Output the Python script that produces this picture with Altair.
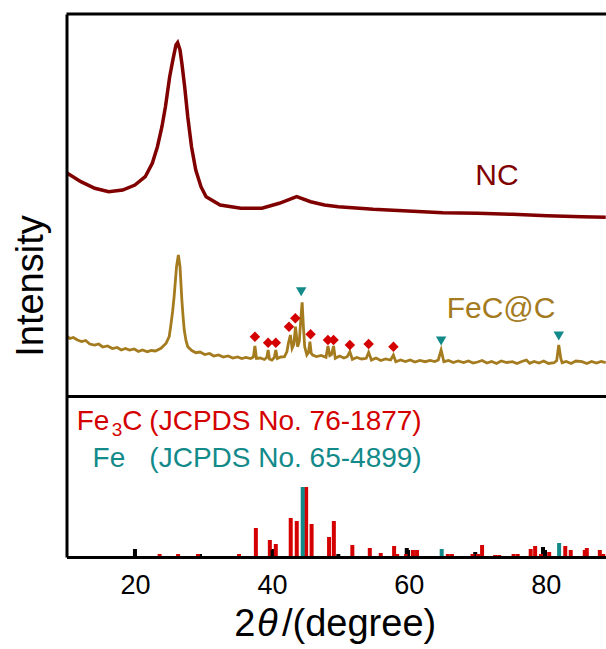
import altair as alt
import pandas as pd

# ---------------- data ----------------
# NC pattern: 2theta (deg) and intensity (arbitrary units)
nc_deg = [10.07, 12.10, 14.13, 16.16, 18.20, 19.99, 21.50, 22.53, 23.28, 23.94,
          24.45, 25.07, 25.58, 25.99, 26.23, 26.58, 26.85, 27.26, 27.71, 28.26,
          28.88, 29.64, 30.39, 32.44, 35.47, 38.54, 41.08, 43.62, 45.65, 47.68,
          49.72, 54.80, 59.88, 64.96, 70.04, 75.12, 80.22, 85.30, 88.76]
nc_int = [223.5, 214.8, 208.2, 204.8, 206.5, 211.5, 219.8, 233.2, 249.8, 269.8,
          289.8, 319.8, 338.2, 351.5, 353.8, 346.5, 333.2, 309.8, 279.8, 249.8,
          226.5, 209.8, 199.8, 191.5, 188.2, 188.2, 193.2, 199.8, 194.8, 191.5,
          189.8, 187.2, 185.5, 183.8, 183.2, 182.2, 180.8, 179.8, 179.2]

# FeC@C pattern
fec_deg = [10.00, 10.50, 11.00, 11.60, 12.20, 12.80, 13.40, 14.10, 14.70, 15.30,
           16.00, 16.70, 17.40, 18.00, 18.60, 19.20, 19.90, 20.50, 21.10, 21.80,
           22.40, 23.00, 23.80, 24.55, 25.00, 25.21, 25.50, 25.72, 26.07, 26.34,
           26.58, 26.85, 27.05, 27.20, 27.45, 27.71, 28.30, 28.88, 29.50, 30.20,
           30.90, 31.50, 32.20, 32.90, 33.60, 34.30, 35.00, 35.60, 36.20, 36.90,
           37.30, 37.52, 37.75, 38.30, 38.90, 39.25, 39.45, 39.65, 40.00, 40.35,
           40.57, 40.80, 41.30, 41.84, 42.20, 42.40, 42.70, 42.95, 43.20, 43.45,
           43.75, 44.00, 44.25, 44.42, 44.60, 44.79, 45.10, 45.35, 45.55, 45.75,
           45.95, 46.50, 47.20, 47.90, 48.19, 48.45, 48.70, 49.01, 49.25, 49.90,
           50.50, 51.00, 51.39, 51.75, 52.40, 53.10, 53.78, 54.13, 54.54, 55.20,
           55.90, 56.60, 57.34, 57.75, 58.10, 58.80, 59.50, 60.20, 60.90, 61.60,
           62.40, 63.10, 63.80, 64.30, 64.72, 65.12, 65.80, 66.50, 67.20, 68.00,
           68.70, 69.40, 70.04, 70.70, 71.40, 72.10, 72.80, 73.50, 74.30, 75.12,
           75.80, 76.50, 77.17, 77.66, 78.30, 79.00, 79.70, 80.40, 81.23, 81.60,
           81.90, 82.20, 82.39, 83.00, 83.70, 84.40, 85.30, 86.00, 86.70, 87.40,
           88.10, 88.76]
fec_int = [60.5, 58.0, 59.0, 56.5, 55.0, 56.0, 52.5, 51.5, 52.5, 49.5,
           50.5, 48.0, 49.0, 46.5, 48.0, 46.5, 47.5, 45.0, 46.5, 44.8,
           46.0, 45.5, 48.2, 53.2, 60.0, 69.8, 85.0, 99.8, 129.8, 141.5,
           129.8, 96.5, 78.0, 66.5, 56.0, 49.8, 46.0, 43.8, 44.5, 42.0,
           43.0, 40.5, 41.5, 39.5, 40.5, 38.5, 39.5, 38.0, 39.0, 38.0,
           39.5, 50.5, 38.0, 38.5, 37.0, 39.0, 46.5, 37.5, 36.5, 39.0,
           46.5, 38.0, 39.5, 39.8, 45.0, 53.0, 61.5, 48.2, 52.0, 69.8,
           49.8, 55.0, 80.0, 94.2, 70.0, 50.0, 41.5, 44.0, 54.8, 43.0,
           41.5, 40.0, 41.0, 39.2, 50.5, 41.0, 42.0, 50.5, 38.2, 40.5,
           38.5, 39.8, 44.8, 37.2, 39.0, 37.5, 38.2, 44.2, 36.5, 38.5,
           36.0, 37.5, 36.5, 41.5, 34.8, 36.5, 35.0, 36.5, 34.5, 36.0,
           34.8, 36.0, 35.0, 36.5, 46.5, 34.8, 36.0, 34.0, 35.5, 34.0,
           35.5, 33.5, 34.5, 36.0, 33.5, 35.0, 33.0, 35.5, 34.0, 34.8,
           33.0, 35.0, 36.5, 33.2, 35.0, 33.5, 35.5, 33.0, 33.8, 36.0,
           51.6, 38.0, 33.8, 35.0, 33.0, 35.5, 34.8, 33.0, 35.0, 33.5,
           35.0, 33.8]

# Peak markers on the FeC@C pattern
fe3c_mark_deg = [37.52, 39.45, 40.57, 42.50, 43.42, 45.65, 48.19, 49.01, 51.39, 54.13, 57.75]
fe3c_mark_int = [59.8, 53.8, 53.8, 69.8, 78.2, 62.2, 56.5, 56.5, 51.5, 52.5, 49.8]
fe_mark_deg = [44.28, 64.72, 81.90]
fe_mark_int = [104.8, 55.5, 60.5]

# Reference stick patterns (bottom panel)
fe3c_ref_deg = [23.6, 26.3, 29.2, 35.2, 37.66, 39.7, 40.57, 42.75, 43.63, 45.0,
                45.8, 48.35, 49.05, 51.75, 54.3, 55.9, 57.85, 58.3, 59.6, 60.6,
                61.2, 65.7, 66.3, 69.3, 70.1, 70.7, 72.6, 73.2, 75.3, 75.9,
                77.8, 78.45, 79.3, 80.5, 82.85, 83.65, 85.7, 86.0, 87.9, 88.4]
fe3c_ref_int = [3, 3, 3, 3, 29, 17, 13, 39, 36, 70,
                33, 20, 36, 12, 9, 4, 11, 3, 3, 7,
                7, 3, 3, 3, 3, 12, 2, 2, 3, 3,
                8, 11, 3, 5, 11, 7, 7, 9, 7, 3]
fe_ref_deg = [44.5, 64.8, 81.95]
fe_ref_int = [70, 8, 14]
other_ref_deg = [20.0, 29.5, 40.05, 49.7, 59.7, 69.7, 79.6]
other_ref_int = [8, 3, 8, 3, 9, 5, 10]

tick_values = [20, 40, 60, 80]

# ---------------- layout / style ----------------
OFFSET = 160.5          # height of the reference panel (y units = px)
W, H = 539.5, 543
X_DOM = [10, 88.8]
Y_DOM = [0, 543]
FONT = "Liberation Sans"
C_NC = "#800000"
C_FEC = "#A47B1E"
C_RED = "#D40000"
C_TEAL = "#138A8A"

xs = alt.Scale(domain=X_DOM, nice=False, zero=False)
ys = alt.Scale(domain=Y_DOM, nice=False, zero=False)
xaxis = alt.Axis(values=tick_values, title=None, ticks=False, tickSize=0, grid=False,
                 domainColor="black", domainWidth=3, labelFont=FONT, labelFontSize=27,
                 labelColor="black", labelBaseline="alphabetic", labelPadding=36,
                 format="d", zindex=1)
yaxis = alt.Axis(title="Intensity", labels=False, ticks=False, grid=False,
                 domainColor="black", domainWidth=3, titleFont=FONT, titleFontSize=38,
                 titleFontWeight="normal", titleColor="black", titleAngle=270,
                 titleBaseline="alphabetic", titleAlign="center", titleX=-24.5,
                 titleY=271.5, zindex=1)


def X(f):
    return alt.X(f, type="quantitative", scale=xs, axis=xaxis)


def Y(f):
    return alt.Y(f, type="quantitative", scale=ys, axis=yaxis)


nc_df = pd.DataFrame({"deg": nc_deg, "y": [v + OFFSET for v in nc_int]})
fec_df = pd.DataFrame({"deg": fec_deg, "y": [v + OFFSET for v in fec_int]})
dia_df = pd.DataFrame({"deg": fe3c_mark_deg, "y": [v + OFFSET for v in fe3c_mark_int]})
tri_df = pd.DataFrame({"deg": fe_mark_deg, "y": [v + OFFSET for v in fe_mark_int]})
fe3c_df = pd.DataFrame({"deg": fe3c_ref_deg, "y": fe3c_ref_int})
fe_df = pd.DataFrame({"deg": fe_ref_deg, "y": fe_ref_int})
oth_df = pd.DataFrame({"deg": other_ref_deg, "y": other_ref_int})
tick_df = pd.DataFrame({"deg": tick_values})
one = pd.DataFrame({"k": [0]})   # single row for annotations / frame lines

layers = []

# sticks
for df, col in [(oth_df, "black"), (fe3c_df, C_RED), (fe_df, C_TEAL)]:
    layers.append(alt.Chart(df).mark_rule(color=col, strokeWidth=4, strokeCap="butt").encode(
        x=X("deg"), y=Y("y"), y2=alt.datum(0)))

# inward ticks
layers.append(alt.Chart(tick_df).mark_rule(color="black", strokeWidth=2.5).encode(
    x=X("deg"), y=alt.datum(0), y2=alt.datum(7)))

# frame lines: divider and top border
layers.append(alt.Chart(one).mark_rule(color="black", strokeWidth=3).encode(
    x=alt.datum(X_DOM[0]), x2=alt.datum(X_DOM[1]), y=alt.datum(OFFSET)))
layers.append(alt.Chart(one).mark_rule(color="black", strokeWidth=3).encode(
    x=alt.datum(X_DOM[0]), x2=alt.datum(X_DOM[1]), y=alt.datum(Y_DOM[1])))

# curves
layers.append(alt.Chart(nc_df).mark_line(color=C_NC, strokeWidth=3.5).encode(x=X("deg"), y=Y("y")))
layers.append(alt.Chart(fec_df).mark_line(color=C_FEC, strokeWidth=2.8).encode(x=X("deg"), y=Y("y")))

# markers
layers.append(alt.Chart(dia_df).mark_point(shape="diamond", filled=True, size=110, color=C_RED,
                                            opacity=1).encode(x=X("deg"), y=Y("y")))
layers.append(alt.Chart(tri_df).mark_point(shape="triangle-down", filled=True, size=110,
                                            color=C_TEAL, opacity=1).encode(x=X("deg"), y=Y("y")))


def label(txt, x, y, color, size, **kw):
    return alt.Chart(one).mark_text(text=txt, font=FONT, fontSize=size, color=color,
                                    align="left", baseline="alphabetic", **kw).encode(
        x=alt.datum(x), y=alt.datum(y))


layers += [
    label("NC", 69.71, 211.5 + OFFSET, C_NC, 30),
    label("FeC@C", 65.53, 78.2 + OFFSET, C_FEC, 30),
    label("Fe", 11.5, 127, C_RED, 28),
    label("3", 16.6, 121, C_RED, 19),
    label("C", 18.15, 127, C_RED, 28),
    label("(JCPDS No. 76-1877)", 22.1, 127, C_RED, 28),
    label("Fe", 13.81, 90.3, C_TEAL, 28),
    label("(JCPDS No. 65-4899)", 22.1, 90.3, C_TEAL, 28),
]


# x-axis title: 2θ/(degree) with italic θ
def xt(txt, px, style="normal"):
    return alt.Chart(one).mark_text(text=txt, font=FONT, fontSize=38, fontStyle=style,
                                    color="black", align="left",
                                    baseline="alphabetic").encode(
        x=alt.value(px), y=alt.value(622))


layers += [xt("2", 167.8), xt("θ", 190.5, "italic"), xt("/(degree)", 215.5)]

chart = alt.layer(*layers).properties(
    width=W, height=H,
    autosize=alt.AutoSizeParams(type="none"),
    padding={"left": 66.5, "top": 14, "right": 0, "bottom": 88},
).configure_view(stroke=None).configure(background="white")

chart.save("out.html", embed_options={"renderer": "svg", "actions": False})
